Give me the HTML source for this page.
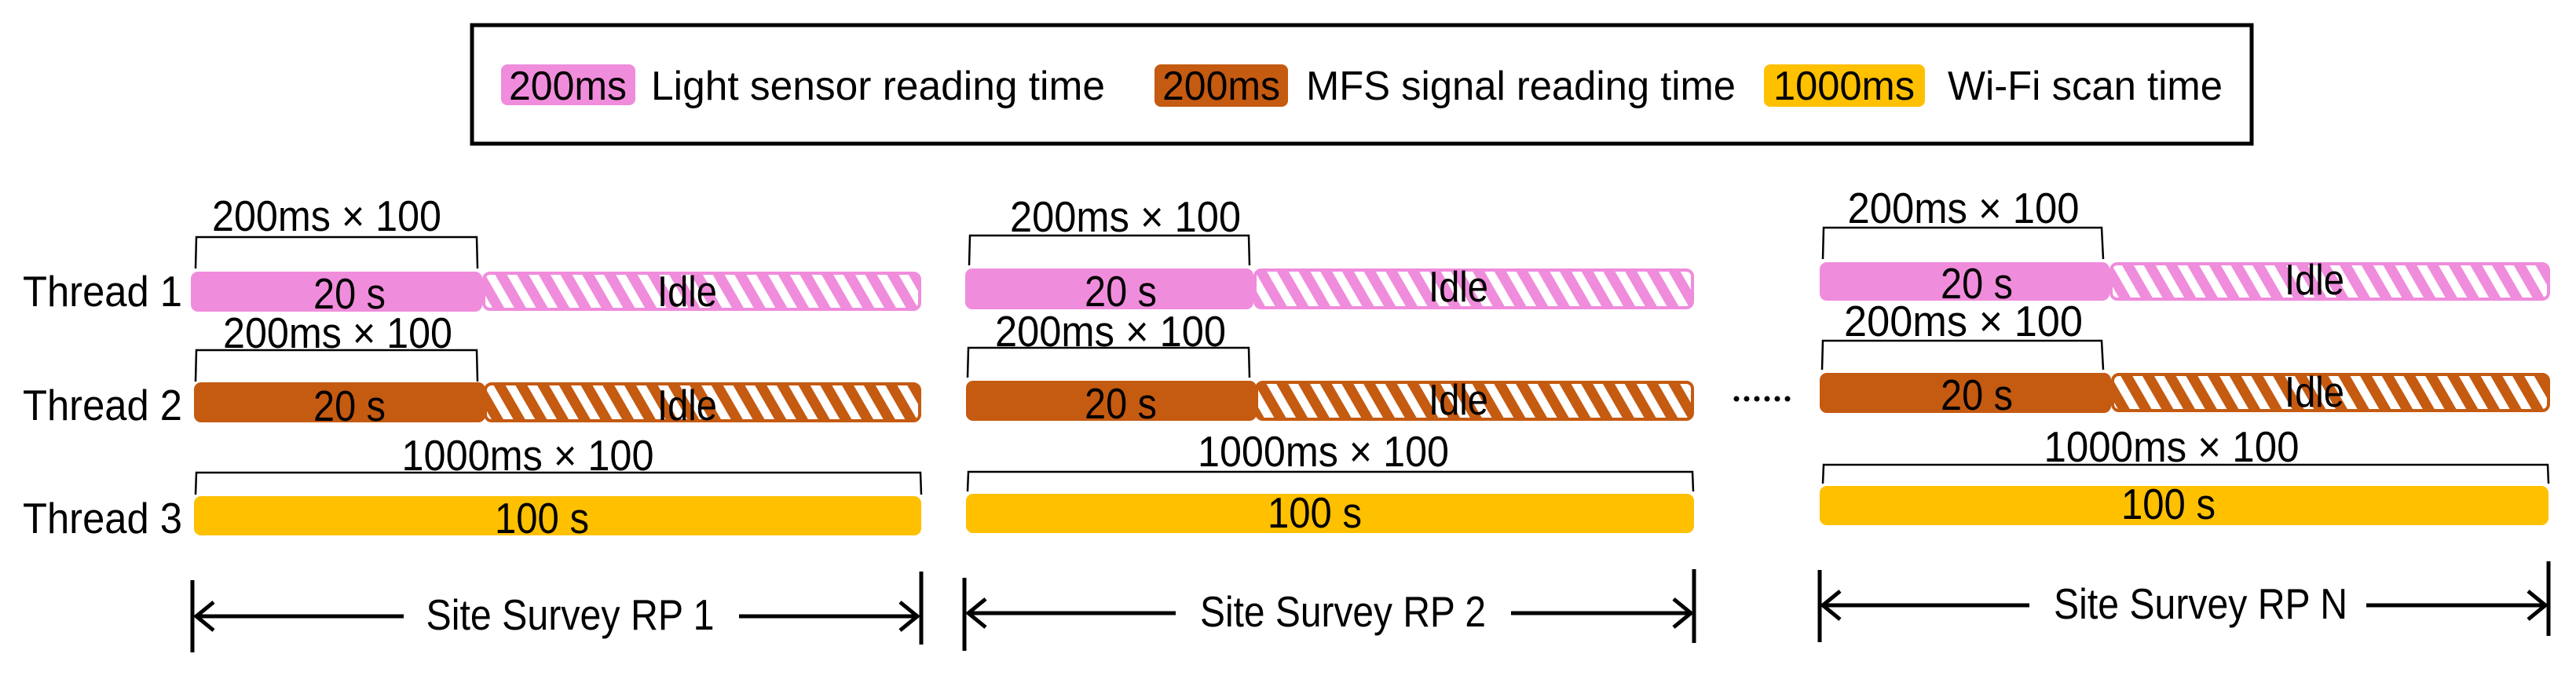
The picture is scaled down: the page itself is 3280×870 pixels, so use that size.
<!DOCTYPE html>
<html><head><meta charset="utf-8"><style>
html,body{margin:0;padding:0;background:#fff;}
svg{display:block;}
text{font-family:"Liberation Sans",sans-serif;fill:#000;}
</style></head><body>
<svg width="3280" height="870" viewBox="0 0 3280 870" xmlns="http://www.w3.org/2000/svg">
<defs>
<pattern id="hp" patternUnits="userSpaceOnUse" width="24" height="24" patternTransform="rotate(-30)">
<rect width="24" height="24" fill="#F08CDC"/><rect width="11" height="24" fill="#fff"/>
</pattern>
<pattern id="hb" patternUnits="userSpaceOnUse" width="24" height="24" patternTransform="rotate(-30)">
<rect width="24" height="24" fill="#C55A11"/><rect width="11" height="24" fill="#fff"/>
</pattern>
</defs>

<!-- legend -->
<rect x="601" y="32" width="2266" height="151" fill="none" stroke="#000" stroke-width="5"/>
<rect x="638" y="82" width="171" height="52" rx="8" fill="#F08CDC"/>
<text x="723" y="127" font-size="52" text-anchor="middle" textLength="150" lengthAdjust="spacingAndGlyphs">200ms</text>
<text x="829" y="127" font-size="52" textLength="578" lengthAdjust="spacingAndGlyphs">Light sensor reading time</text>
<rect x="1470" y="82" width="170" height="54" rx="8" fill="#C55A11"/>
<text x="1555" y="127" font-size="52" text-anchor="middle" textLength="150" lengthAdjust="spacingAndGlyphs">200ms</text>
<text x="1663" y="127" font-size="52" textLength="547" lengthAdjust="spacingAndGlyphs">MFS signal reading time</text>
<rect x="2246" y="82" width="205" height="54" rx="8" fill="#FFC000"/>
<text x="2348" y="127" font-size="52" text-anchor="middle" textLength="180" lengthAdjust="spacingAndGlyphs">1000ms</text>
<text x="2480" y="127" font-size="52" textLength="350" lengthAdjust="spacingAndGlyphs">Wi-Fi scan time</text>

<!-- thread labels -->
<text x="29" y="390" font-size="55" textLength="203" lengthAdjust="spacingAndGlyphs">Thread 1</text>
<text x="29" y="535" font-size="55" textLength="203" lengthAdjust="spacingAndGlyphs">Thread 2</text>
<text x="29" y="679" font-size="55" textLength="203" lengthAdjust="spacingAndGlyphs">Thread 3</text>

<g fill="none" stroke="#000" stroke-width="2.5">
<path d="M249 342 L250 302 L607 302 L608 342"/>
<path d="M249 486 L250 446 L607 446 L608 486"/>
<path d="M249 630 L250 602 L1172 602 L1173 630"/>
<path d="M1234 338 L1235 300 L1590 300 L1591 338"/>
<path d="M1232 481 L1233 443 L1590 443 L1591 481"/>
<path d="M1232 626 L1233 601 L2155 601 L2156 626"/>
<path d="M2321 330 L2322 290 L2676 290 L2678 330"/>
<path d="M2320 471 L2321 434 L2676 434 L2678 471"/>
<path d="M2321 616 L2322 592 L3244 592 L3245 616"/>
</g>

<rect x="616" y="348" width="555" height="46" rx="8" fill="url(#hp)" stroke="#F08CDC" stroke-width="4"/>
<rect x="243" y="346" width="371" height="51" rx="9" fill="#F08CDC"/>
<rect x="618" y="489" width="553" height="47" rx="8" fill="url(#hb)" stroke="#C55A11" stroke-width="4"/>
<rect x="247" y="487" width="371" height="51" rx="9" fill="#C55A11"/>
<rect x="247" y="632" width="926" height="50" rx="9" fill="#FFC000"/>
<rect x="1598" y="344" width="557" height="48" rx="8" fill="url(#hp)" stroke="#F08CDC" stroke-width="4"/>
<rect x="1229" y="342" width="367" height="52" rx="9" fill="#F08CDC"/>
<rect x="1600" y="487" width="555" height="47" rx="8" fill="url(#hb)" stroke="#C55A11" stroke-width="4"/>
<rect x="1230" y="485" width="370" height="51" rx="9" fill="#C55A11"/>
<rect x="1230" y="629" width="927" height="50" rx="9" fill="#FFC000"/>
<rect x="2688" y="336" width="557" height="45" rx="8" fill="url(#hp)" stroke="#F08CDC" stroke-width="4"/>
<rect x="2317" y="334" width="369" height="49" rx="9" fill="#F08CDC"/>
<rect x="2690" y="477" width="555" height="46" rx="8" fill="url(#hb)" stroke="#C55A11" stroke-width="4"/>
<rect x="2317" y="475" width="371" height="51" rx="9" fill="#C55A11"/>
<rect x="2317" y="619" width="928" height="50" rx="9" fill="#FFC000"/>

<g font-size="55" text-anchor="middle">
<text x="445" y="393" textLength="92" lengthAdjust="spacingAndGlyphs">20 s</text>
<text x="875" y="390" textLength="76" lengthAdjust="spacingAndGlyphs">Idle</text>
<text x="445" y="536" textLength="92" lengthAdjust="spacingAndGlyphs">20 s</text>
<text x="875" y="535" textLength="76" lengthAdjust="spacingAndGlyphs">Idle</text>
<text x="690" y="679" textLength="120" lengthAdjust="spacingAndGlyphs">100 s</text>

<text x="1427" y="390" textLength="92" lengthAdjust="spacingAndGlyphs">20 s</text>
<text x="1857" y="384" textLength="76" lengthAdjust="spacingAndGlyphs">Idle</text>
<text x="1427" y="533" textLength="92" lengthAdjust="spacingAndGlyphs">20 s</text>
<text x="1857" y="528" textLength="76" lengthAdjust="spacingAndGlyphs">Idle</text>
<text x="1674" y="672" textLength="120" lengthAdjust="spacingAndGlyphs">100 s</text>

<text x="2517" y="380" textLength="92" lengthAdjust="spacingAndGlyphs">20 s</text>
<text x="2947" y="375" textLength="76" lengthAdjust="spacingAndGlyphs">Idle</text>
<text x="2517" y="522" textLength="92" lengthAdjust="spacingAndGlyphs">20 s</text>
<text x="2947" y="518" textLength="76" lengthAdjust="spacingAndGlyphs">Idle</text>
<text x="2761" y="661" textLength="120" lengthAdjust="spacingAndGlyphs">100 s</text>
</g>

<g font-size="55" text-anchor="middle">
<text x="416" y="294" textLength="292" lengthAdjust="spacingAndGlyphs">200ms × 100</text>
<text x="430" y="443" textLength="292" lengthAdjust="spacingAndGlyphs">200ms × 100</text>
<text x="672" y="599" textLength="321" lengthAdjust="spacingAndGlyphs">1000ms × 100</text>
<text x="1433" y="295" textLength="294" lengthAdjust="spacingAndGlyphs">200ms × 100</text>
<text x="1414" y="441" textLength="294" lengthAdjust="spacingAndGlyphs">200ms × 100</text>
<text x="1685" y="594" textLength="320" lengthAdjust="spacingAndGlyphs">1000ms × 100</text>
<text x="2500" y="284" textLength="295" lengthAdjust="spacingAndGlyphs">200ms × 100</text>
<text x="2500" y="428" textLength="304" lengthAdjust="spacingAndGlyphs">200ms ×  100</text>
<text x="2765" y="588" textLength="325" lengthAdjust="spacingAndGlyphs">1000ms × 100</text>
</g>

<g fill="#000">
<circle cx="2211" cy="508" r="3.5"/><circle cx="2224" cy="508" r="3.5"/><circle cx="2237" cy="508" r="3.5"/>
<circle cx="2250" cy="508" r="3.5"/><circle cx="2263" cy="508" r="3.5"/><circle cx="2276" cy="508" r="3.5"/>
</g>

<g fill="none" stroke="#000" stroke-width="5">
<line x1="245" y1="739" x2="245" y2="831"/><line x1="1173" y1="728" x2="1173" y2="821"/>
<line x1="249" y1="785" x2="514" y2="785"/><line x1="941" y1="785" x2="1169" y2="785"/>
<polyline points="272,767 250,785 272,803"/><polyline points="1146,767 1168,785 1146,803"/>

<line x1="1228" y1="736" x2="1228" y2="829"/><line x1="2157" y1="725" x2="2157" y2="819"/>
<line x1="1233" y1="781" x2="1497" y2="781"/><line x1="1924" y1="781" x2="2153" y2="781"/>
<polyline points="1255,763 1233,781 1255,799"/><polyline points="2131,763 2153,781 2131,799"/>

<line x1="2317" y1="726" x2="2317" y2="818"/><line x1="3245" y1="715" x2="3245" y2="810"/>
<line x1="2321" y1="771" x2="2584" y2="771"/><line x1="3013" y1="771" x2="3241" y2="771"/>
<polyline points="2343,753 2321,771 2343,789"/><polyline points="3219,753 3241,771 3219,789"/>
</g>
<g font-size="55" text-anchor="middle">
<text x="726" y="802" textLength="367" lengthAdjust="spacingAndGlyphs">Site Survey RP 1</text>
<text x="1710" y="798" textLength="364" lengthAdjust="spacingAndGlyphs">Site Survey RP 2</text>
<text x="2802" y="788" textLength="374" lengthAdjust="spacingAndGlyphs">Site Survey RP N</text>
</g>
</svg>
</body></html>
